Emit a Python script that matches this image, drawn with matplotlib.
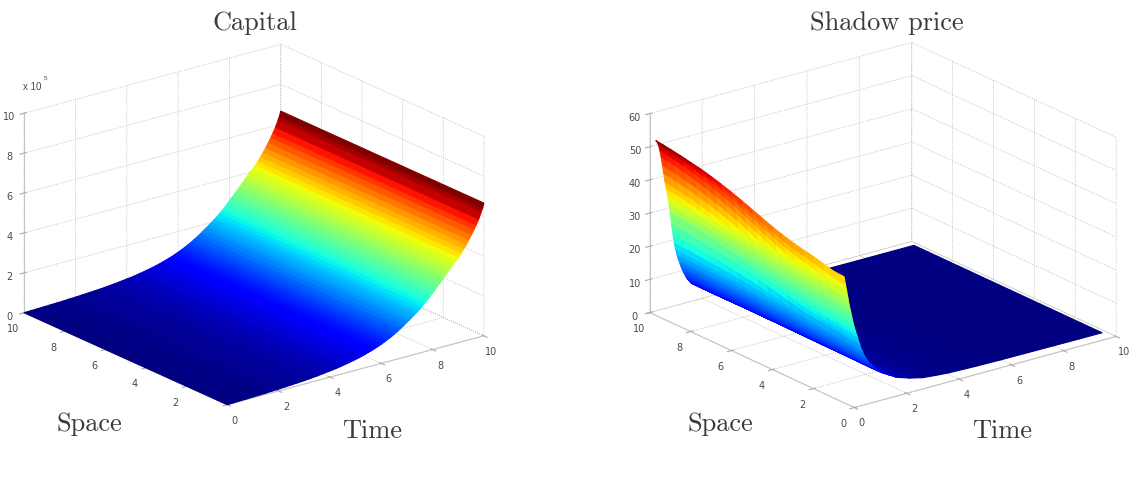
import numpy as np
import matplotlib
matplotlib.use('Agg')
import matplotlib.pyplot as plt
from matplotlib.colors import Normalize
from mpl_toolkits.mplot3d import Axes3D

# capital, in units of 1e5
capital_time = [0, .25, .5, .75, 1, 1.25, 1.5, 1.75, 2, 2.25, 2.5, 2.75, 3, 3.25, 3.5, 3.75,
                4, 4.25, 4.5, 4.75, 5, 5.125, 5.25, 5.375, 5.5, 5.625, 5.75, 5.875, 6,
                6.125, 6.25, 6.375, 6.5, 6.625, 6.75, 6.875, 7,
                7.1, 7.2, 7.3, 7.4, 7.5, 7.6, 7.7, 7.8, 7.9, 8, 8.1, 8.2, 8.3, 8.4, 8.5,
                8.6, 8.7, 8.8, 8.9, 9, 9.1, 9.2, 9.3, 9.4, 9.5, 9.6, 9.7, 9.8, 9.9, 9.95, 10]
capital_value = [0, .01, .02, .03, .04, .05, .06, .08, .09, .11, .13, .15, .17, .20, .23, .27,
                 .31, .35, .41, .47, .54, .58, .62, .67, .72, .77, .83, .89, .96,
                 1.03, 1.11, 1.19, 1.28, 1.38, 1.48, 1.59, 1.71,
                 1.80, 1.90, 2.00, 2.10, 2.20, 2.32, 2.44, 2.56, 2.70, 2.84, 2.98, 3.12, 3.26, 3.40, 3.55,
                 3.70, 3.85, 4.00, 4.12, 4.25, 4.42, 4.60, 4.78, 4.98, 5.20, 5.42, 5.66, 5.92, 6.25, 6.42, 6.65]
capital_space = [0, 10]

# shadow price: crest at time 0 along space, decay along time at both ends of space
price_space = [.5, 1, 1.5, 2, 2.5, 3, 3.5, 4, 4.5, 5, 5.5, 6, 6.5, 7, 7.5, 8, 8.5, 9, 9.35, 9.7]
price_crest = [38, 38.2, 39, 39.8, 40.4, 41.1, 42, 43, 44.2, 45.4, 46.6, 47.7, 48.7, 49.6, 50.4, 51,
               51.6, 52.1, 52.4, 52.7]
price_blend = [0, .05, .1, .15, .2, .25, .32, .4, .47, .55, .62, .7, .75, .8, .85, .9, .94, .97, .99, 1]
price_time = [0, .05, .1, .15, .2, .25, .3, .35, .4, .45, .5, .55, .6, .65, .7, .75, .8, .85, .9, .95,
              1, 1.05, 1.1, 1.15, 1.2, 1.25, 1.3, 1.35, 1.4, 1.45, 1.5, 1.75, 2, 2.5, 3, 3.5, 4,
              5, 6, 7, 8, 9, 9.85]
decay_near = [1, .94, .88, .82, .76, .71, .66, .61, .57, .53, .50, .46, .43, .39, .37, .34, .32, .30, .28, .265,
              .25, .24, .225, .215, .205, .195, .185, .175, .165, .16, .15, .12, .09, .055, .03, .02, .012,
              .006, .003, .002, .001, 0, 0]
decay_far = [1, .99, .97, .94, .90, .85, .80, .75, .71, .67, .62, .57, .50, .44, .39, .35, .32, .29, .27, .245,
             .225, .205, .19, .175, .16, .15, .14, .13, .125, .12, .115, .085, .06, .035, .02, .012, .007,
             .003, .001, 0, 0, 0, 0]

xy_ticks = [0, 2, 4, 6, 8, 10]
capital_space_labels = ['', '2', '4', '6', '8', '10']
capital_zticks = [0, 2, 4, 6, 8, 10]
price_zticks = [0, 10, 20, 30, 40, 50, 60]

W, H = 1144, 498
jet = plt.get_cmap('jet', 256)


def make_axes(fig, left, bottom, size, aspect, elev, azim, zticks):
    ax = fig.add_axes([left / W, bottom / H, size / W, size / H], projection='3d', proj_type='ortho')
    ax.patch.set_alpha(0)
    ax.view_init(elev=elev, azim=azim)
    ax.set_box_aspect(aspect)
    ax.set_xlim(0, 10, view_margin=0)
    ax.set_ylim(0, 10, view_margin=0)
    ax.set_zlim(zticks[0], zticks[-1], view_margin=0)
    ax.set_xticks(xy_ticks)
    ax.set_yticks(xy_ticks)
    ax.set_zticks(zticks)
    ax.tick_params(labelsize=7, labelcolor='#4a4a4a', color='#aaaaaa', pad=-1)
    ax.yaxis.set_tick_params(pad=0)
    ax.zaxis.set_tick_params(pad=-2)
    for axis in (ax.xaxis, ax.yaxis, ax.zaxis):
        axis.set_pane_color((1, 1, 1, 1))
        axis.pane.set_edgecolor('none')
        axis.line.set_color('#c4c4c4')
        axis.line.set_linewidth(0.8)
        axis._axinfo['grid'].update(color='#b4b4b4', linestyle=':', linewidth=0.6)
    return ax


def draw_surface(ax, time, space, Z):
    T, S = np.meshgrid(time, space)
    # each strip takes the colour of its higher-time edge so the far edge reaches the top of the map
    colors = jet(Normalize(Z.min(), Z.max())(np.roll(Z, -1, axis=1)))
    ax.plot_surface(T, S, Z, facecolors=colors, shade=False, rstride=1, cstride=1,
                    linewidth=0.8, antialiased=True)


fig = plt.figure(figsize=(W / 100, H / 100), dpi=100)

ax1 = make_axes(fig, -0.7, 18.8, 496, (324, 333, 213), 20.4, -127.6, capital_zticks)
ax1.set_yticklabels(capital_space_labels)
draw_surface(ax1, capital_time, capital_space, np.tile(capital_value, (len(capital_space), 1)))

ax2 = make_axes(fig, 625.2, 15.2, 502, (330, 337, 213), 20.8, -127.4, price_zticks)
near = np.array(decay_near)
far = np.array(decay_far)
Z = np.array([c * ((1 - w) * near + w * far) for c, w in zip(price_crest, price_blend)])
draw_surface(ax2, price_time, price_space, Z)


def label(x, y, txt, size=19):
    fig.text(x / W, 1 - y / H, txt, family='cmr10', fontsize=size, color='#3a3a3a', ha='center', va='center')


label(255, 23, 'Capital')
label(887, 23, 'Shadow price')
label(89, 424, 'Space')
label(372, 431, 'Time')
label(720, 424, 'Space')
label(1002, 431, 'Time')
fig.text(23 / W, 1 - 87 / H, 'x 10', fontsize=7, color='#4a4a4a', ha='left', va='center', family='Liberation Sans')
fig.text(44 / W, 1 - 78 / H, '5', fontsize=4.5, color='#4a4a4a', ha='left', va='center', family='Liberation Sans')

fig.savefig('out.png', dpi=100)
